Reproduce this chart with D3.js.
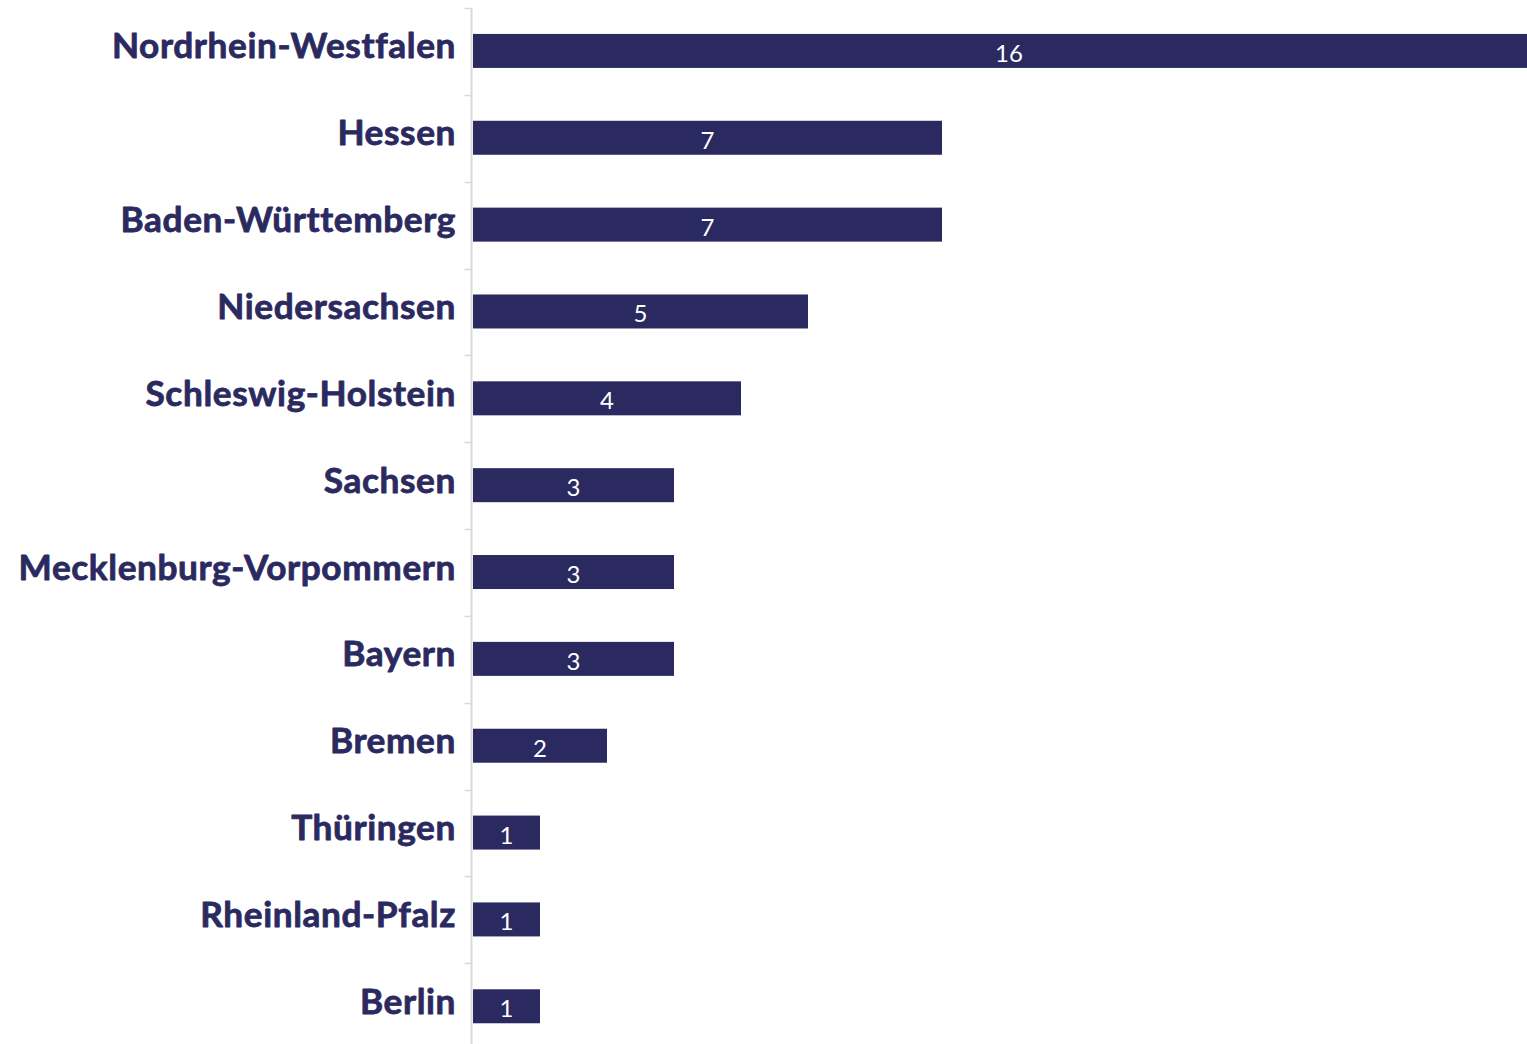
<!DOCTYPE html>
<html>
<head>
<meta charset="utf-8">
<script src="https://cdn.jsdelivr.net/npm/d3@7"></script>
<style>
  html, body { margin: 0; padding: 0; background: #ffffff; }
  svg { display: block; }
</style>
</head>
<body>
<svg id="chart" width="1527" height="1044"></svg>
<script>
// Bundesländer and their counts
const states = [
  "Nordrhein-Westfalen", "Hessen", "Baden-Württemberg", "Niedersachsen",
  "Schleswig-Holstein", "Sachsen", "Mecklenburg-Vorpommern", "Bayern",
  "Bremen", "Thüringen", "Rheinland-Pfalz", "Berlin"
];
const counts = [16, 7, 7, 5, 4, 3, 3, 3, 2, 1, 1, 1];

const W = 1527, H = 1044;
const ink = "#2b2a60";
const axisGrey = "#d9d9d9";

const svg = d3.select("#chart");

const axisX = 471.5;
const barX0 = 473;
const plotTop = 8, rowH = 86.85;

const y = d3.scaleBand()
  .domain(states)
  .range([plotTop, plotTop + rowH * states.length])
  .padding(0);

// 67 px per unit; the longest bar runs past the right edge
const x = d3.scaleLinear()
  .domain([0, 16])
  .range([barX0, barX0 + 67 * 16]);

const barH = 34;

// category axis: grey line with short ticks at row boundaries
const axisG = svg.append("g");
axisG.append("line")
  .attr("x1", axisX).attr("x2", axisX)
  .attr("y1", plotTop).attr("y2", H)
  .attr("stroke", axisGrey).attr("stroke-width", 2);
axisG.selectAll("line.tick")
  .data(states)
  .join("line")
  .attr("class", "tick")
  .attr("x1", axisX - 7).attr("x2", axisX)
  .attr("y1", d => Math.round(y(d)) + 0.5)
  .attr("y2", d => Math.round(y(d)) + 0.5)
  .attr("stroke", axisGrey).attr("stroke-width", 1.5);

// bars
svg.append("g").selectAll("rect")
  .data(states)
  .join("rect")
  .attr("x", x(0))
  .attr("y", (d) => y(d) + y.bandwidth() / 2 - barH / 2 - 0.5)
  .attr("width", (d, i) => x(counts[i]) - x(0))
  .attr("height", barH)
  .attr("fill", ink);

// value labels centred in the bars
svg.append("g").selectAll("text")
  .data(states)
  .join("text")
  .attr("x", (d, i) => (x(0) + x(counts[i])) / 2)
  .attr("y", d => y(d) + y.bandwidth() / 2 + 1)
  .attr("text-anchor", "middle")
  .attr("dominant-baseline", "central")
  .attr("font-family", "'Source Sans Pro', Lato, 'Open Sans', sans-serif")
  .attr("font-size", 24)
  .attr("fill", "#ffffff")
  .text((d, i) => counts[i]);

// category labels (a thin stroke gives them a heavier weight)
const labels = svg.append("g").selectAll("text")
  .data(states)
  .join("text")
  .attr("x", 456)
  .attr("y", d => y(d) + y.bandwidth() / 2 + 7)
  .attr("text-anchor", "end")
  .attr("font-family", "'Source Sans Pro', Lato, 'Open Sans', sans-serif")
  .attr("font-weight", "bold")
  .attr("font-size", 36)
  .attr("letter-spacing", 0.6)
  .attr("fill", ink)
  .attr("stroke", ink)
  .attr("stroke-width", 0.8)
  .attr("stroke-linejoin", "round")
  .text(d => d);

// size the label font so the longest name spans the same width
const ref = labels.filter(d => d === "Nordrhein-Westfalen").node();
const w = ref.getComputedTextLength();
const fs = Math.min(40, 36 * 344 / w);
labels.attr("font-size", fs);
</script>
</body>
</html>
